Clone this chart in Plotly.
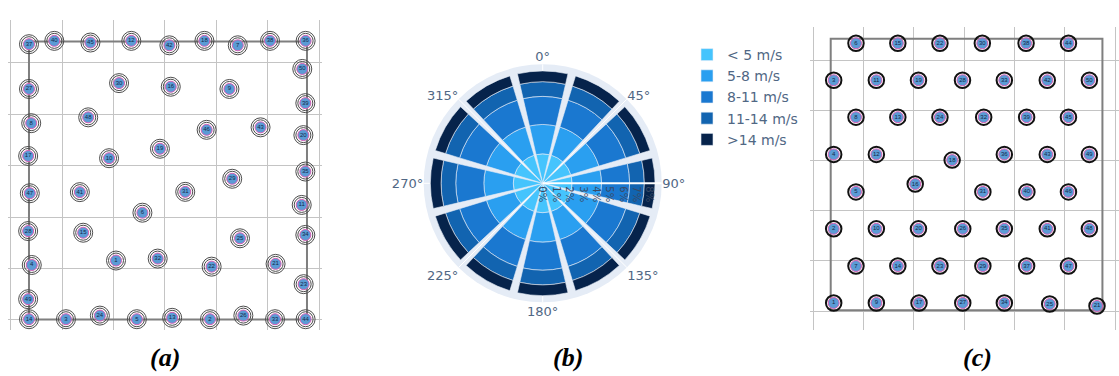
import plotly.graph_objects as go

W, H = 1119, 376

# ---------------- (a) irregular turbine layout ----------------
a_id = [37, 40, 45, 12, 42, 18, 7, 38, 36,
        50, 39, 20, 35, 11, 34, 23, 44,
        14, 3, 24, 5, 13, 2, 26, 33,
        27, 8, 17, 47, 28, 4, 49,
        30, 16, 9, 48, 46, 43, 19, 10, 29, 41, 31, 6, 15, 25, 1, 32, 22, 21]
a_x = [0.0, 9.1, 22.1, 36.8, 50.5, 63.1, 75.1, 86.7, 99.5,
       98.3, 99.4, 98.7, 99.4, 98.1, 99.4, 98.8, 99.5,
       0.0, 13.3, 25.5, 38.8, 51.5, 65.1, 77.1, 88.5,
       0.0, 0.8, -0.3, 0.3, -0.3, 1.0, -0.3,
       32.4, 51.0, 72.1, 21.3, 63.9, 83.3, 47.1, 28.8, 73.1, 18.3, 56.2, 40.8, 19.5, 75.9, 31.3, 46.3, 65.7, 88.7]
a_y = [99.0, 100.2, 99.6, 100.2, 98.6, 100.2, 98.6, 100.2, 100.2,
       90.1, 77.8, 66.3, 53.2, 41.2, 30.4, 12.7, 0.1,
       0.1, 0.1, 1.4, 0.1, 0.6, 0.1, 1.4, 0.1,
       82.9, 70.6, 58.8, 45.4, 31.8, 19.6, 7.3,
       85.0, 83.7, 82.9, 72.7, 68.2, 69.1, 61.4, 58.0, 50.6, 45.8, 45.9, 38.4, 31.2, 29.2, 21.2, 21.9, 19.0, 20.0]
site_x = [0, 100, 100, 0, 0]
site_y = [0, 0, 100, 100, 0]

# ---------------- (b) wind rose ----------------
directions = [0, 30, 60, 90, 120, 150, 180, 210, 240, 270, 300, 330]
speed_bins = ["< 5 m/s", "5-8 m/s", "8-11 m/s", "11-14 m/s", ">14 m/s"]
freq_lt5 = [2.2] * 12
freq_5_8 = [2.2] * 12
freq_8_11 = [2.1] * 12
freq_11_14 = [1.1] * 12
freq_gt14 = [0.8] * 12
bin_colors = ["#45c4fd", "#2a9ff0", "#1a78d0", "#1264b0", "#06234b"]

# ---------------- (c) staggered turbine layout ----------------
c_id = [6, 15, 22, 30, 38, 44,
        3, 11, 19, 28, 33, 42, 50,
        8, 13, 24, 32, 39, 45,
        4, 12, 18, 36, 43, 49,
        5, 16, 31, 40, 46,
        2, 10, 20, 26, 35, 41, 48,
        7, 14, 23, 29, 37, 47,
        1, 9, 17, 27, 34, 25, 21]
c_x = [9.3, 24.7, 40.2, 55.8, 71.9, 87.5,
       1.1, 16.8, 32.3, 48.5, 63.9, 79.7, 95.2,
       9.3, 24.7, 40.2, 56.3, 72.1, 87.5,
       1.1, 16.8, 44.7, 63.9, 79.7, 95.2,
       9.3, 31.1, 56.0, 72.2, 87.5,
       1.1, 16.8, 32.3, 48.6, 63.9, 79.7, 95.2,
       9.3, 24.7, 40.2, 56.0, 72.1, 87.5,
       1.1, 16.8, 32.5, 48.6, 63.9, 80.6, 98.0]
c_y = [98.3] * 6 + [84.7] * 7 + [71.1] * 6 + \
      [57.4, 57.4, 55.3, 57.4, 57.4, 57.4] + \
      [43.6, 46.5, 43.6, 43.6, 43.6] + [30.0] * 7 + [16.3] * 6 + \
      [2.7, 2.7, 2.7, 2.7, 2.7, 2.3, 1.6]

fig = go.Figure()

CORE = "#5b9bd5"
PINK = "#d45fb5"


def add_turbines(xs, ys, ids, xa, ya, rings, core_size):
    for size, width, color in rings:
        fig.add_trace(go.Scatter(
            x=xs, y=ys, mode="markers", xaxis=xa, yaxis=ya, showlegend=False,
            hoverinfo="skip",
            marker=dict(symbol="circle-open", size=size, color=color,
                        line=dict(width=width, color=color))))
    fig.add_trace(go.Scatter(
        x=xs, y=ys, mode="markers+text", xaxis=xa, yaxis=ya, showlegend=False,
        text=[str(i) for i in ids], textposition="middle center",
        textfont=dict(size=6, color="#13294a", family="Arial"),
        marker=dict(size=core_size, color=CORE, line=dict(width=1, color=PINK))))


# site boundary of (a) and (c)
fig.add_trace(go.Scatter(x=site_x, y=site_y, mode="lines", xaxis="x", yaxis="y",
                         line=dict(color="#7f7f7f", width=2), showlegend=False, hoverinfo="skip"))
fig.add_trace(go.Scatter(x=site_x, y=site_y, mode="lines", xaxis="x2", yaxis="y2",
                         line=dict(color="#7f7f7f", width=2), showlegend=False, hoverinfo="skip"))

add_turbines(a_x, a_y, a_id, "x", "y",
             [(19, 1, "#4d4d4d"), (15, 1, "#4d4d4d")], 11)
add_turbines(c_x, c_y, c_id, "x2", "y2",
             [(15.5, 2, "#111111")], 11)

# wind rose
for name, vals, col in zip(speed_bins,
                           [freq_lt5, freq_5_8, freq_8_11, freq_11_14, freq_gt14],
                           bin_colors):
    fig.add_trace(go.Barpolar(r=vals, theta=directions, name=name, width=26,
                              marker=dict(color=col, line=dict(color="#e5ecf6", width=0.6)),
                              subplot="polar"))

grid = dict(showgrid=True, gridcolor="#c4c4c4", gridwidth=1, zeroline=False,
            showticklabels=False, ticks="", showline=False, fixedrange=True)

fig.update_layout(
    width=W, height=H, margin=dict(l=0, r=0, t=0, b=0),
    paper_bgcolor="white", plot_bgcolor="white",
    barmode="stack",
    xaxis=dict(domain=[8 / W, 322 / W], range=[-7.55, 105.4],
               tick0=-6.58, dtick=18.49, **grid),
    yaxis=dict(domain=[1 - 330 / H, 1 - 20 / H], range=[-3.78, 107.7],
               tick0=-0.18, dtick=18.5, **grid),
    xaxis2=dict(domain=[810 / W, 1.0], range=[-7.62, 106.1],
                tick0=-6.4, dtick=18.52, **grid),
    yaxis2=dict(domain=[1 - 330 / H, 1 - 27 / H], range=[-7.25, 104.3],
                tick0=-0.26, dtick=18.45, **grid),
    polar=dict(
        domain=dict(x=[423.7 / W, 661.7 / W], y=[1 - 302.3 / H, 1 - 64.3 / H]),
        bgcolor="#e5ecf6",
        angularaxis=dict(rotation=90, direction="clockwise", dtick=45,
                         ticksuffix="°",
                         tickfont=dict(size=13, color="#506784", family="DejaVu Sans"),
                         showline=False, gridcolor="white", layer="below traces",
                         ticks=""),
        radialaxis=dict(range=[0, 8.9], angle=0, tickangle=90, dtick=1,
                        ticksuffix="%",
                        tickfont=dict(size=10, color="#3a4a66", family="DejaVu Sans"),
                        showgrid=False, showline=True, linecolor="white", linewidth=2,
                        layer="above traces", ticks=""),
    ),
    legend=dict(x=687 / W, y=1 - 39 / H, xanchor="left", yanchor="top",
                font=dict(size=14, color="#506784", family="DejaVu Sans"),
                tracegroupgap=0, bgcolor="rgba(0,0,0,0)"),
    font=dict(family="DejaVu Sans"),
)

for label, xc in [("(a)", 165), ("(b)", 568), ("(c)", 977)]:
    fig.add_annotation(text=label, x=xc / W, y=1 - 357 / H, xref="paper", yref="paper",
                       showarrow=False, xanchor="center", yanchor="middle",
                       font=dict(family="Liberation Serif", size=26, color="black",
                                 weight="bold", style="italic"))

fig.write_html("out.html")
